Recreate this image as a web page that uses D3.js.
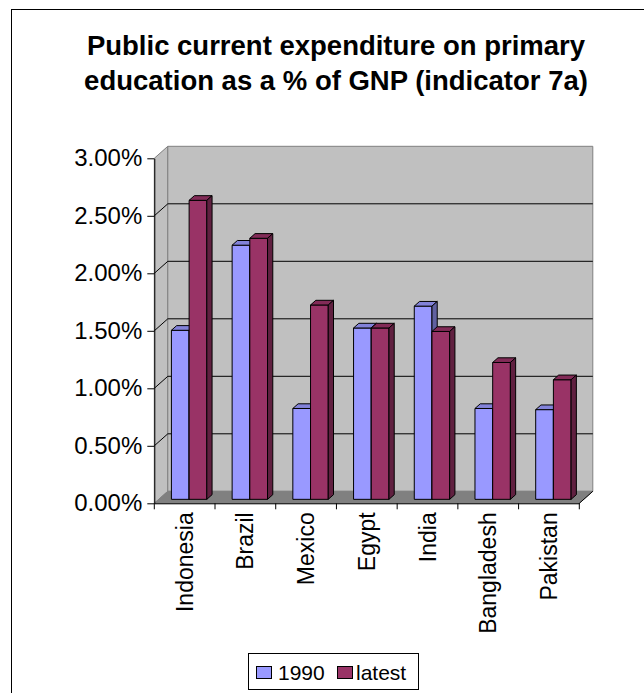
<!DOCTYPE html>
<html>
<head>
<meta charset="utf-8">
<script src="https://cdn.jsdelivr.net/npm/d3@7"></script>
<style>
  html, body { margin: 0; padding: 0; background: #fff; }
  svg { display: block; }
  text { font-family: Arial, "Liberation Sans", sans-serif; fill: #000; }
</style>
</head>
<body>
<svg id="chart" width="644" height="693"></svg>
<script>
// Public current expenditure on primary education, % of GNP
const categories = ["Indonesia", "Brazil", "Mexico", "Egypt", "India", "Bangladesh", "Pakistan"];
const seriesNames = ["1990", "latest"];
const values1990 = [1.47, 2.21, 0.79, 1.49, 1.68, 0.79, 0.78];
const valuesLatest = [2.60, 2.27, 1.69, 1.49, 1.46, 1.19, 1.04];
const yTicks = [0, 0.5, 1, 1.5, 2, 2.5, 3];
const titleLines = ["Public current expenditure on primary", "education as a % of GNP (indicator 7a)"];

const seriesColors = { "1990": "#9999FF", "latest": "#993366" };

const svg = d3.select("#chart");

// outer chart frame
svg.append("rect")
  .attr("x", 11.5).attr("y", 9.5)
  .attr("width", 700).attr("height", 720)
  .attr("fill", "#fff").attr("stroke", "#000").attr("stroke-width", 1);

// title
svg.append("g").selectAll("text").data(titleLines).join("text")
  .attr("x", 336).attr("y", (d, i) => 55 + i * 35)
  .attr("text-anchor", "middle")
  .style("font-weight", "bold").style("font-size", "27.5px")
  .text(d => d);

// plot geometry (front plane) and depth projection
const x0 = 154.3, x1 = 579.3;
const DX = 13.5, DY = 12;          // offset from front plane to back wall
const barZ0 = 0.33, barZ1 = 0.72;  // depth range of each column

const x = d3.scaleBand().domain(categories).range([x0, x1]).padding(0);
const xs = d3.scaleBand().domain(seriesNames).range([0, x.step()]).paddingInner(0).paddingOuter(0.715);
const y = d3.scaleLinear().domain([0, 3]).range([503.3, 158.3]);

const P = (px, v, z) => [px + z * DX, y(v) - z * DY];
const poly = pts => "M" + pts.map(p => p.join(",")).join("L") + "Z";

const plot = svg.append("g");
const ymax = d3.max(yTicks), ymin = d3.min(yTicks);

// left side wall
plot.append("path")
  .attr("d", poly([P(x0, ymin, 0), P(x0, ymax, 0), P(x0, ymax, 1), P(x0, ymin, 1)]))
  .attr("fill", "#C0C0C0").attr("stroke", "#808080");

// back wall
plot.append("path")
  .attr("d", poly([P(x0, ymin, 1), P(x0, ymax, 1), P(x1, ymax, 1), P(x1, ymin, 1)]))
  .attr("fill", "#C0C0C0").attr("stroke", "#808080");

// floor
plot.append("path")
  .attr("d", poly([P(x0, ymin, 0), P(x1, ymin, 0), P(x1, ymin, 1), P(x0, ymin, 1)]))
  .attr("fill", "#808080").attr("stroke", "#808080");

// gridlines across side wall and back wall
plot.append("g").selectAll("path").data(yTicks.filter(t => t > ymin && t < ymax)).join("path")
  .attr("d", t => "M" + P(x0, t, 0).join(",") + "L" + P(x0, t, 1).join(",") + "L" + P(x1, t, 1).join(","))
  .attr("fill", "none").attr("stroke", "#000").attr("stroke-width", 1);

// floor front-right edge
plot.append("path")
  .attr("d", "M" + P(x1, ymin, 0).join(",") + "L" + P(x1, ymin, 1).join(","))
  .attr("stroke", "#000").attr("fill", "none");

// columns
const rows = [];
categories.forEach((c, i) => {
  rows.push({ cat: c, s: "1990", v: values1990[i] });
  rows.push({ cat: c, s: "latest", v: valuesLatest[i] });
});

const shade = (col, k) => d3.rgb(col).darker(k).formatHex();

const bars = plot.append("g").selectAll("g").data(rows).join("g");
bars.each(function (d) {
  const g = d3.select(this);
  const l = x(d.cat) + xs(d.s), r = l + xs.bandwidth();
  const col = seriesColors[d.s];
  // front face
  g.append("path")
    .attr("d", poly([P(l, 0, barZ0), P(r, 0, barZ0), P(r, d.v, barZ0), P(l, d.v, barZ0)]))
    .attr("fill", col).attr("stroke", "#000").attr("stroke-width", 1).attr("stroke-linejoin", "round");
  // top face
  g.append("path")
    .attr("d", poly([P(l, d.v, barZ0), P(r, d.v, barZ0), P(r, d.v, barZ1), P(l, d.v, barZ1)]))
    .attr("fill", shade(col, 0.45)).attr("stroke", "#000").attr("stroke-width", 1).attr("stroke-linejoin", "round");
  // side face
  g.append("path")
    .attr("d", poly([P(r, 0, barZ0), P(r, 0, barZ1), P(r, d.v, barZ1), P(r, d.v, barZ0)]))
    .attr("fill", shade(col, 1.3)).attr("stroke", "#000").attr("stroke-width", 1).attr("stroke-linejoin", "round");
});

// value axis
const yAxis = svg.append("g")
  .attr("transform", `translate(${x0},0)`)
  .call(d3.axisLeft(y).tickValues(yTicks).tickFormat(d => d.toFixed(2) + "%").tickSize(7).tickSizeOuter(0));
yAxis.select(".domain").attr("stroke", "#000");
yAxis.selectAll(".tick line").attr("stroke", "#000");
yAxis.selectAll(".tick text")
  .attr("x", -12)
  .style("font-size", "24px").style("font-family", "Arial, 'Liberation Sans', sans-serif").attr("fill", "#000");

// category axis
const xAxis = svg.append("g")
  .attr("transform", `translate(0,${y(0)})`)
  .call(d3.axisBottom(x).tickSize(0).tickSizeOuter(0));
xAxis.select(".domain").attr("stroke", "#000");
xAxis.selectAll(".tick text")
  .attr("transform", "rotate(-90)")
  .attr("text-anchor", "end")
  .attr("x", -9).attr("y", 0).attr("dy", "0.35em")
  .style("font-size", "23px").style("font-family", "Arial, 'Liberation Sans', sans-serif").attr("fill", "#000");
// tick marks on category boundaries
const bounds = categories.map(c => x(c)).concat([x1]);
xAxis.append("g").selectAll("line").data(bounds).join("line")
  .attr("x1", d => d).attr("x2", d => d)
  .attr("y1", 0).attr("y2", 6)
  .attr("stroke", "#000");

// legend
const legend = svg.append("g").attr("transform", "translate(248,653)");
legend.append("rect")
  .attr("x", 0.5).attr("y", 0.5).attr("width", 170).attr("height", 36)
  .attr("fill", "#fff").attr("stroke", "#000");
const legendX = [8, 89];
const legendTextX = [22, 19];
const items = legend.selectAll("g.item").data(seriesNames).join("g")
  .attr("class", "item")
  .attr("transform", (d, i) => `translate(${legendX[i]},0)`);
items.append("rect")
  .attr("x", 0.5).attr("y", 13.5).attr("width", 15).attr("height", 12)
  .attr("fill", d => seriesColors[d]).attr("stroke", "#000");
items.append("text")
  .attr("x", (d, i) => legendTextX[i]).attr("y", 27)
  .style("font-size", "21px")
  .text(d => d);
</script>
</body>
</html>
